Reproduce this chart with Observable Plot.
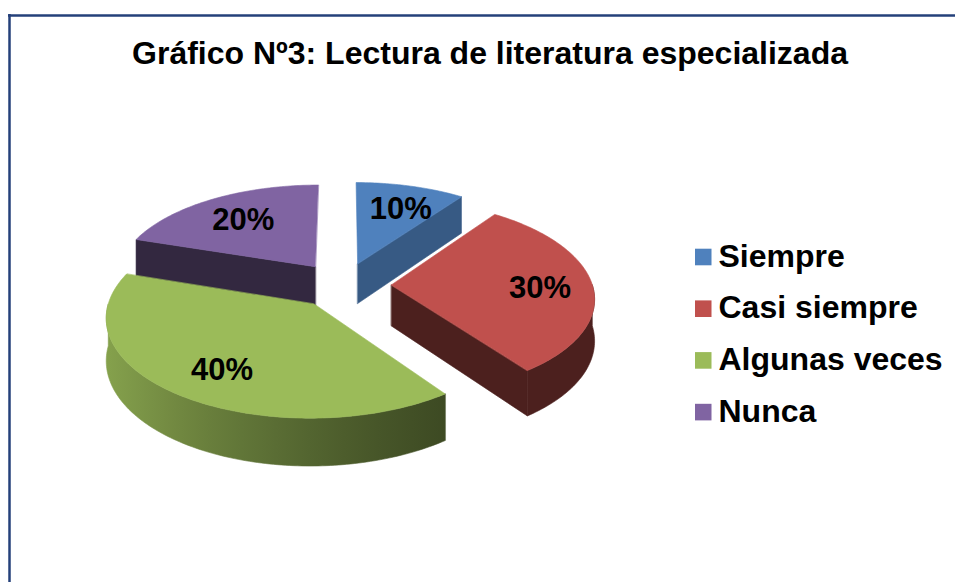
<!DOCTYPE html>
<html>
<head>
<meta charset="utf-8">
<script src="https://cdn.jsdelivr.net/npm/d3@7"></script>
<script src="https://cdn.jsdelivr.net/npm/@observablehq/plot@0.6"></script>
<style>
  html, body { margin: 0; padding: 0; background: #fff; overflow: hidden; }
  #chart { width: 955px; height: 582px; overflow: hidden; }
  #chart svg { display: block; }
</style>
</head>
<body>
<div id="chart"></div>
<script>
// ---------- data ----------
const title = "Gráfico Nº3: Lectura de literatura especializada";
const categories = ["Siempre", "Casi siempre", "Algunas veces", "Nunca"];
const percents = [10, 30, 40, 20];
const colors = ["#4f81bd", "#c0504d", "#9bbb59", "#8064a2"];
const labels = percents.map(p => p + "%");

// ---------- layout ----------
const W = 955, H = 582;
const cx = 342.6, cy = 284.4;      // pie centre (px)
const rx = 201, ry = 95.6;         // ellipse radii (px)
const persp = 0.12;                // perspective factor
const thick = 41 / ry;             // pie thickness in y-units
const explode = 0.24;              // explosion (radius units)
const labelR = 0.72;               // label distance from apex
const cutDark = {"Siempre": 1.0};  // darkness of radial cut faces (default 2.6)

const px2x = p => (p - cx) / rx;
const px2y = p => (cy - p) / ry;

function project(u, v, z) {
  const s = 1 + persp * v;
  return {x: u / s, y: (v - z * thick) / s};
}
function rimDark(X) {
  const t = (X - (-1.2)) / (0.5 - (-1.2));
  return 0.4 + 2.2 * Math.max(0, Math.min(1, t));
}

// ---------- geometry from data ----------
const total = d3.sum(percents);
let acc = 0;
const slices = categories.map((c, i) => {
  const a0 = acc / total * 2 * Math.PI;
  acc += percents[i];
  const a1 = acc / total * 2 * Math.PI;
  const mid = (a0 + a1) / 2;
  const ou = explode * Math.sin(mid), ov = explode * Math.cos(mid);
  const lp = project(ou + labelR * Math.sin(mid), ov + labelR * Math.cos(mid), 0);
  return {c, i, a0, a1, mid, ou, ov, color: colors[i], label: labels[i], lx: lp.x, ly: lp.y};
});

const points = [];
const gradients = [];
let fid = 0;
function addFace(pts, fill) {
  const id = fid++;
  for (const p of pts) points.push({id, x: p.x, y: p.y, fill});
}

const order = slices.slice().sort((a, b) => Math.cos(b.mid) - Math.cos(a.mid));
for (const s of order) {
  const P = (th, z) => project(s.ou + Math.sin(th), s.ov + Math.cos(th), z);
  const A = z => project(s.ou, s.ov, z);
  const cd = cutDark[s.c] ?? 2.6;
  // radial cut faces
  if (Math.cos(s.a0 - Math.PI / 2) < -0.01)
    addFace([A(0), P(s.a0, 0), P(s.a0, 1), A(1)], d3.color(s.color).darker(cd).formatHex());
  if (Math.cos(s.a1 + Math.PI / 2) < -0.01)
    addFace([A(0), P(s.a1, 0), P(s.a1, 1), A(1)], d3.color(s.color).darker(cd).formatHex());
  // outer rim (front half) as one polygon with a horizontal gradient
  const r0 = Math.max(s.a0, Math.PI / 2), r1 = Math.min(s.a1, 3 * Math.PI / 2);
  if (r1 > r0) {
    const n = Math.ceil((r1 - r0) / (Math.PI / 180));
    const topArc = [], botArc = [];
    for (let j = 0; j <= n; j++) {
      const t = r0 + (r1 - r0) * j / n;
      topArc.push(P(t, 0)); botArc.push(P(t, 1));
    }
    const xs = topArc.map(p => p.x);
    const gid = "rim-" + s.i;
    gradients.push({id: gid, color: s.color, xmin: d3.min(xs), xmax: d3.max(xs)});
    addFace(topArc.concat(botArc.reverse()), `url(#${gid})`);
  }
  // top face
  const top = [A(0)];
  const m = Math.ceil((s.a1 - s.a0) / (Math.PI / 180));
  for (let j = 0; j <= m; j++) top.push(P(s.a0 + (s.a1 - s.a0) * j / m, 0));
  addFace(top, s.color);
}

const rowY = i => 257 + 51.7 * i;
const font = "'Liberation Sans', Arial, sans-serif";

const chart = Plot.plot({
  width: W, height: H, margin: 0,
  x: {domain: [px2x(0), px2x(W)], range: [0, W], axis: null},
  y: {domain: [px2y(H), px2y(0)], range: [H, 0], axis: null},
  color: {type: "identity"},
  style: {fontFamily: font, background: "white"},
  marks: [
    Plot.ruleY([0], {y: () => px2y(15), x1: () => px2x(8), x2: () => px2x(W), stroke: "#24407a", strokeWidth: 2.5}),
    Plot.ruleX([0], {x: () => px2x(9), y1: () => px2y(14), y2: () => px2y(H), stroke: "#24407a", strokeWidth: 2.5}),
    Plot.line(points, {x: "x", y: "y", z: "id", fill: "fill", stroke: "fill", strokeWidth: 0.6, curve: "linear-closed"}),
    Plot.text(slices, {x: "lx", y: "ly", text: "label", dx: 4, dy: 3, fontSize: 31, fontWeight: "bold", fill: "black"}),
    Plot.text([title], {x: () => px2x(489.5), y: () => px2y(53), text: d => d, fontSize: 32, fontWeight: "bold", fill: "black"}),
    Plot.rect(categories, {x1: () => px2x(695), x2: () => px2x(711.5),
      y1: (d, i) => px2y(rowY(i) + 8.3), y2: (d, i) => px2y(rowY(i) - 8.3), fill: (d, i) => colors[i]}),
    Plot.text(categories, {x: () => px2x(718), y: (d, i) => px2y(rowY(i) - 1), text: d => d,
      textAnchor: "start", fontSize: 32, fontWeight: "bold", fill: "black"})
  ]
});

// gradient definitions for the rim faces (positions via the plot's x scale)
const xs = chart.scale("x");
const defs = d3.select(chart).insert("defs", ":first-child");
for (const g of gradients) {
  const lg = defs.append("linearGradient").attr("id", g.id).attr("gradientUnits", "userSpaceOnUse")
    .attr("x1", xs.apply(g.xmin)).attr("x2", xs.apply(g.xmax)).attr("y1", 0).attr("y2", 0);
  for (let k = 0; k <= 10; k++) {
    const X = g.xmin + (g.xmax - g.xmin) * k / 10;
    lg.append("stop").attr("offset", k / 10).attr("stop-color", d3.color(g.color).darker(rimDark(X)).formatHex());
  }
}
document.getElementById("chart").appendChild(chart);
</script>
</body>
</html>
